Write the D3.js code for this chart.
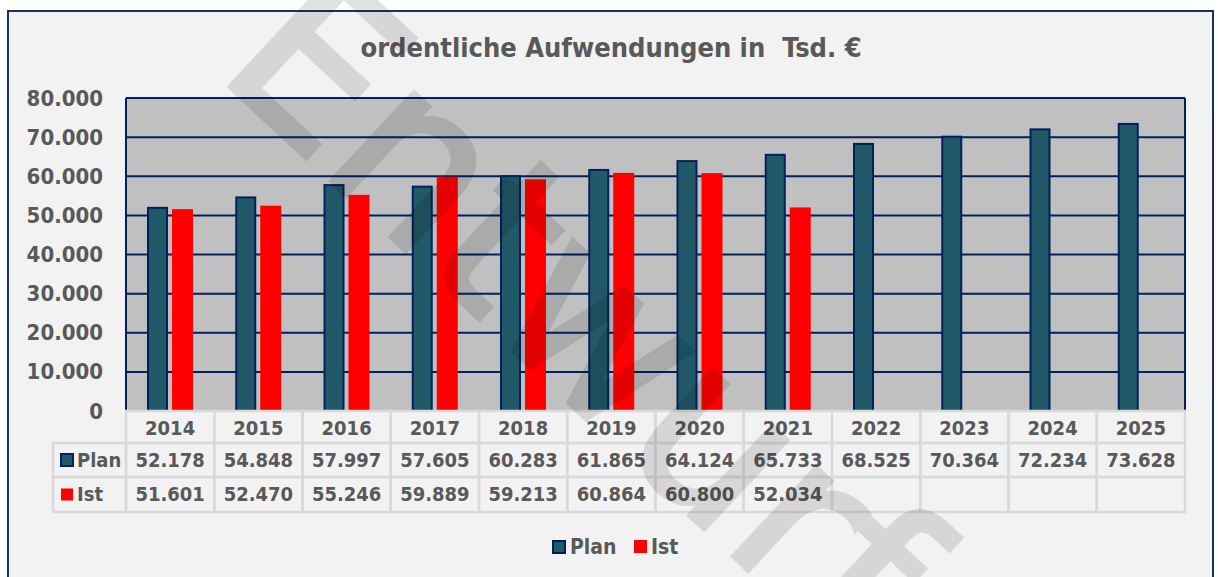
<!DOCTYPE html>
<html>
<head>
  <meta charset="utf-8">
  <title>ordentliche Aufwendungen</title>
  <script src="https://cdn.jsdelivr.net/npm/d3@7"></script>
  <style>
    html, body { margin: 0; padding: 0; background: #fff; }
    svg { display: block; }
    text { font-family: "DejaVu Sans Condensed", "DejaVu Sans", sans-serif; font-weight: bold; fill: #595959; }
  </style>
</head>
<body>
  <svg width="1218" height="577"></svg>
</body>
<script>

const years = ['2014','2015','2016','2017','2018','2019','2020','2021','2022','2023','2024','2025'];
const plan = [52178, 54848, 57997, 57605, 60283, 61865, 64124, 65733, 68525, 70364, 72234, 73628];
const ist  = [51601, 52470, 55246, 59889, 59213, 60864, 60800, 52034, null, null, null, null];
const seriesNames = ['Plan', 'Ist'];
const yTicks = [0, 10000, 20000, 30000, 40000, 50000, 60000, 70000, 80000];
const title = 'ordentliche Aufwendungen in  Tsd. €';

const colors = { Plan: '#215968', Ist: '#ff0000' };
const navy = '#002060';
const gridGray = '#d9d9d9';

const de = d3.formatLocale({ decimal: ',', thousands: '.', grouping: [3], currency: ['', ' €'] });
const fmt = de.format(',d');

const svg = d3.select('svg');

// frame
svg.append('rect')
  .attr('x', 8).attr('y', 11)
  .attr('width', 1205).attr('height', 600)
  .style('fill', '#f2f2f2')
  .style('stroke', '#1f3068')
  .style('stroke-width', 2);

svg.append('text')
  .attr('x', 611).attr('y', 57)
  .attr('text-anchor', 'middle')
  .style('font-size', '27px')
  .style('white-space', 'pre')
  .text(title);

const pLeft = 126, pRight = 1185, pTop = 98, pBottom = 411;

let x = d3.scaleBand().domain(years).range([pLeft, pRight]);
let xs = d3.scaleBand().domain(seriesNames)
  .range([21, 67]).paddingInner(0.16).paddingOuter(0);
let y = d3.scaleLinear().domain([0, 80000]).range([pBottom, pTop]);

// plot area
svg.append('rect')
  .attr('x', pLeft).attr('y', pTop)
  .attr('width', pRight - pLeft).attr('height', pBottom - pTop)
  .style('fill', '#c0c0c0');

svg.append('g').selectAll('line')
  .data(yTicks.filter(d => d > 0))
  .enter().append('line')
  .attr('x1', pLeft).attr('x2', pRight)
  .attr('y1', d => y(d)).attr('y2', d => y(d))
  .style('stroke', navy).style('stroke-width', 2);

svg.append('line')
  .attr('x1', pLeft).attr('x2', pLeft).attr('y1', pTop).attr('y2', pBottom)
  .style('stroke', navy).style('stroke-width', 2);
svg.append('line')
  .attr('x1', pRight).attr('x2', pRight).attr('y1', pTop).attr('y2', pBottom)
  .style('stroke', navy).style('stroke-width', 2);

// y axis labels
let yAxis = d3.axisLeft(y).tickValues(yTicks).tickSize(0).tickPadding(0)
  .tickFormat(d => d === 0 ? '0' : fmt(d));
let ga = svg.append('g').attr('transform', 'translate(103,0)').call(yAxis);
ga.select('.domain').remove();
ga.attr('font-family', null).attr('font-size', null);
ga.selectAll('text')
  .style('font-size', '22px')
  .attr('fill', null);

// bars
let data = [];
years.forEach((yr, i) => {
  data.push({ year: yr, s: 'Plan', v: plan[i] });
  if (ist[i] !== null) data.push({ year: yr, s: 'Ist', v: ist[i] });
});

svg.append('g').selectAll('rect')
  .data(data)
  .enter().append('rect')
  .attr('x', d => x(d.year) + xs(d.s) + (d.s === 'Plan' ? 1 : 0))
  .attr('y', d => y(d.v) + (d.s === 'Plan' ? 1 : 0))
  .attr('width', d => xs.bandwidth() - (d.s === 'Plan' ? 2 : 0))
  .attr('height', d => pBottom - y(d.v) - (d.s === 'Plan' ? 1 : 0))
  .style('fill', d => colors[d.s])
  .style('stroke', d => d.s === 'Plan' ? navy : 'none')
  .style('stroke-width', 2);

// data table
const rowY = [411, 443, 477, 512];
const labelLeft = 53;
let table = svg.append('g');

// header row
years.forEach(yr => {
  table.append('rect')
    .attr('x', x(yr)).attr('y', rowY[0])
    .attr('width', x.bandwidth()).attr('height', rowY[1] - rowY[0])
    .style('fill', 'none').style('stroke', gridGray).style('stroke-width', 2.5);
  table.append('text')
    .attr('x', x(yr) + x.bandwidth() / 2).attr('y', 435)
    .attr('text-anchor', 'middle')
    .style('font-size', '20px')
    .text(yr);
});

let rows = [{ name: 'Plan', vals: plan, base: 467 }, { name: 'Ist', vals: ist, base: 501 }];
rows.forEach((r, ri) => {
  let y0 = rowY[ri + 1], y1 = rowY[ri + 2];
  table.append('rect')
    .attr('x', labelLeft).attr('y', y0)
    .attr('width', pLeft - labelLeft).attr('height', y1 - y0)
    .style('fill', 'none').style('stroke', gridGray).style('stroke-width', 2.5);
  let cy = (y0 + y1) / 2;
  table.append('rect')
    .attr('x', 61).attr('y', cy - 6)
    .attr('width', 12).attr('height', 12)
    .style('fill', colors[r.name])
    .style('stroke', r.name === 'Plan' ? navy : 'none')
    .style('stroke-width', 2);
  table.append('text')
    .attr('x', 77).attr('y', r.base)
    .style('font-size', '20px')
    .text(r.name);
  years.forEach((yr, i) => {
    table.append('rect')
      .attr('x', x(yr)).attr('y', y0)
      .attr('width', x.bandwidth()).attr('height', y1 - y0)
      .style('fill', 'none').style('stroke', gridGray).style('stroke-width', 2.5);
    if (r.vals[i] !== null) {
      table.append('text')
        .attr('x', x(yr) + x.bandwidth() / 2).attr('y', r.base)
        .attr('text-anchor', 'middle')
        .style('font-size', '20px')
        .text(fmt(r.vals[i]));
    }
  });
});

// legend
let legend = svg.append('g');
legend.append('rect')
  .attr('x', 553).attr('y', 541).attr('width', 12).attr('height', 12)
  .style('fill', colors.Plan).style('stroke', navy).style('stroke-width', 2);
legend.append('text').attr('x', 570).attr('y', 554)
  .style('font-size', '21px').text('Plan');
legend.append('rect')
  .attr('x', 634).attr('y', 540).attr('width', 13).attr('height', 13)
  .style('fill', colors.Ist);
legend.append('text').attr('x', 651).attr('y', 554)
  .style('font-size', '21px').text('Ist');

// watermark (stroke thickens the glyphs, group opacity avoids double shading)
svg.append('text')
  .attr('transform', 'translate(214,72) rotate(43)')
  .style('font-family', '"DejaVu Sans", sans-serif')
  .style('font-weight', 'normal')
  .style('font-size', '222px')
  .style('fill', '#000')
  .style('stroke', '#000')
  .style('stroke-width', 5)
  .style('stroke-linejoin', 'miter')
  .style('opacity', 0.11)
  .text('Entwurf');

</script>
</html>
